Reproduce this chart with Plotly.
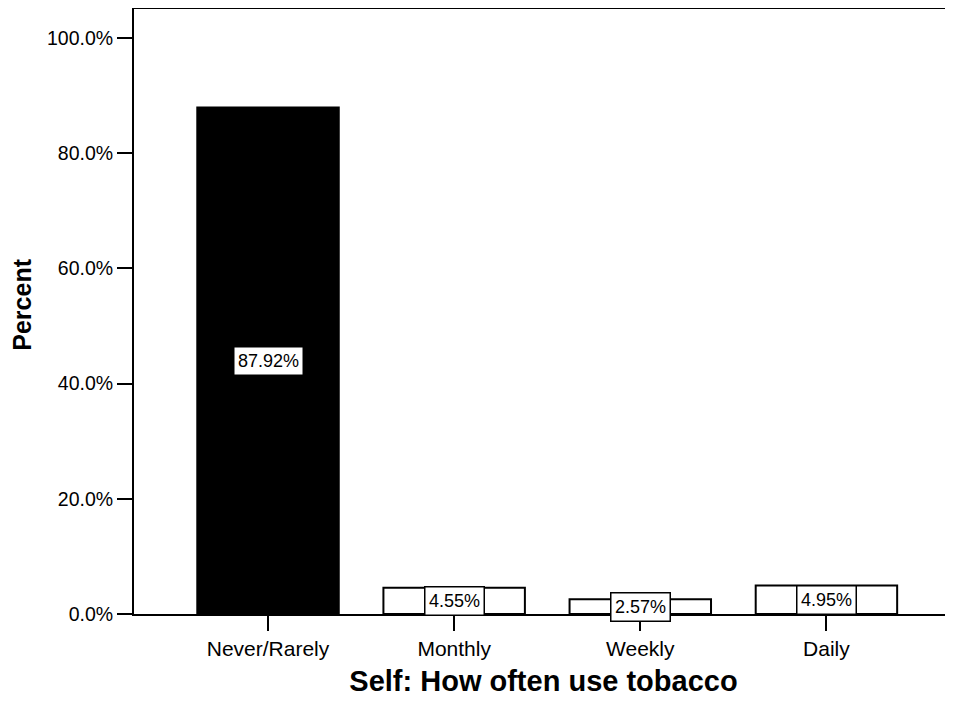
import plotly.graph_objects as go

categories = ["Never/Rarely", "Monthly", "Weekly", "Daily"]
percents = [87.92, 4.55, 2.57, 4.95]
label_texts = ["87.92%", "4.55%", "2.57%", "4.95%"]
bar_colors = ["black", "white", "white", "white"]
y_ticks = [0, 20, 40, 60, 80, 100]

FONT = "Liberation Sans, Arial, sans-serif"

fig = go.Figure()
fig.add_trace(go.Bar(
    x=list(range(len(categories))),
    y=percents,
    width=0.76,
    marker=dict(color=bar_colors, line=dict(color="black", width=2)),
    hoverinfo="skip",
))

for i, (v, t) in enumerate(zip(percents, label_texts)):
    fig.add_annotation(
        x=i, y=v / 2, xref="x", yref="y", text=t, showarrow=False,
        font=dict(family=FONT, size=18, color="black"),
        bgcolor="white", bordercolor="black", borderwidth=1.5, borderpad=3.5,
        xanchor="center", yanchor="middle",
    )

fig.add_annotation(
    x=-0.137, y=0.51, xref="paper", yref="paper", text="<b>Percent</b>",
    textangle=-90, showarrow=False, xanchor="center", yanchor="middle",
    font=dict(family=FONT, size=25, color="black"),
)

fig.add_shape(type="line", xref="paper", yref="paper", x0=0, x1=1, y0=1, y1=1,
              line=dict(color="black", width=2))

fig.update_layout(
    width=945, height=694,
    margin=dict(l=126, r=0, t=0, b=88),
    paper_bgcolor="white", plot_bgcolor="white",
    showlegend=False,
    font=dict(family=FONT, color="black"),
    xaxis=dict(
        range=[-0.72, 3.68],
        tickmode="array", tickvals=list(range(len(categories))), ticktext=categories,
        ticks="outside", ticklen=15, tickwidth=2, tickcolor="black",
        tickfont=dict(family=FONT, size=21, color="black"),
        showline=True, linecolor="black", linewidth=2,
        showgrid=False, zeroline=False,
        title=dict(text="<b>Self: How often use tobacco</b>",
                   font=dict(family=FONT, size=29, color="black"), standoff=11),
    ),
    yaxis=dict(
        range=[0, 105.2],
        tickmode="array", tickvals=y_ticks,
        ticktext=[f"{v:.1f}%" for v in y_ticks],
        ticks="outside", ticklen=15, tickwidth=2, tickcolor="black",
        tickfont=dict(family=FONT, size=19.5, color="black"),
        showline=True, linecolor="black", linewidth=2,
        showgrid=False, zeroline=False,
    ),
)

fig.write_html("out.html")
